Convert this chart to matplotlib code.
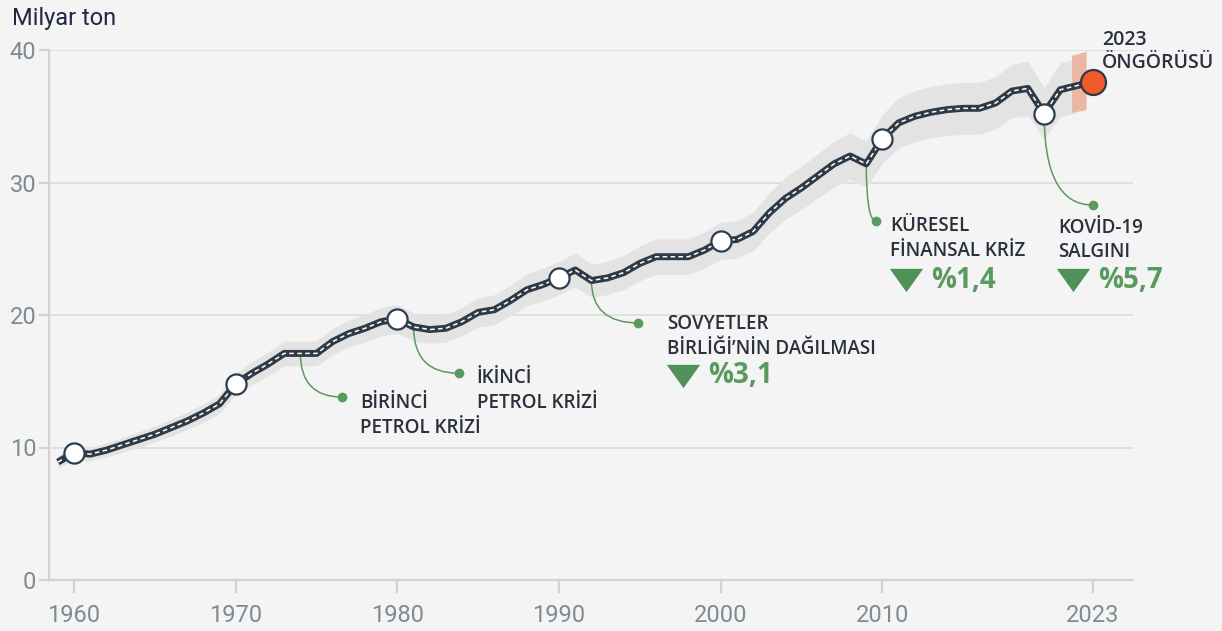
import numpy as np
import matplotlib
matplotlib.use("Agg")
import matplotlib.pyplot as plt
from matplotlib.path import Path
from matplotlib.patches import PathPatch

# global fossil CO2 emissions, billion tonnes
years = list(range(1959, 2024))
emissions = [
    8.9, 9.6, 9.5, 9.8, 10.2, 10.6, 11.0, 11.5, 12.0, 12.6, 13.3,   # 1959-1969
    14.8, 15.6, 16.3, 17.1, 17.1, 17.1, 18.0, 18.6, 19.0, 19.5,    # 1970-1979
    19.7, 19.1, 18.9, 19.0, 19.5, 20.2, 20.4, 21.1, 21.9, 22.3,    # 1980-1989
    22.8, 23.4, 22.6, 22.8, 23.2, 23.9, 24.4, 24.4, 24.4, 24.9,    # 1990-1999
    25.6, 25.7, 26.3, 27.7, 28.8, 29.6, 30.5, 31.4, 32.0, 31.4,    # 2000-2009
    33.3, 34.5, 35.0, 35.3, 35.5, 35.6, 35.6, 36.0, 36.9, 37.1,    # 2010-2019
    35.2, 37.0, 37.3, 37.6,                                        # 2020-2023
]
band_pct = 5.5                      # uncertainty shading, +/- percent
proj_band_years = [2021.7, 2022.6]  # 2023 projection range
proj_band_lo = [35.3, 35.5]
proj_band_hi = [39.6, 39.9]

marked_years = [1960, 1970, 1980, 1990, 2000, 2010, 2020]
forecast_year = 2023

xticks = [1960, 1970, 1980, 1990, 2000, 2010, 2023]
yticks = [0, 10, 20, 30, 40]

# events: (year on line, dot x, dot y, text x, line 1 y, line 2 y, pct y, lines, pct)
events = [
    (1974, 1976.6, 13.8, 1977.7, 13.36, 11.47, None, ["BİRİNCİ", "PETROL KRİZİ"], None),
    (1981, 1983.8, 15.6, 1984.9, 15.25, 13.36, None, ["İKİNCİ", "PETROL KRİZİ"], None),
    (1992, 1994.9, 19.4, 1996.7, 19.32, 17.43, 15.40, ["SOVYETLER", "BİRLİĞİ’NİN DAĞILMASI"], "%3,1"),
    (2009, 2009.6, 27.1, 2010.5, 26.72, 24.83, 22.64, ["KÜRESEL", "FİNANSAL KRİZ"], "%1,4"),
    (2020, 2023.0, 28.3, 2020.85, 26.57, 24.75, 22.64, ["KOVİD-19", "SALGINI"], "%5,7"),
]

BG = "#f4f4f4"
DARK = "#2e3a46"
GREEN = "#5b9a5f"
TEXT = "#2a303c"
TICK = "#7d8b92"

yrs = np.array(years)
vals = np.array(emissions)

fig = plt.figure(figsize=(12.22, 6.31), dpi=100, facecolor=BG)
ax = fig.add_axes([49 / 1222, 51 / 631, 1084 / 1222, 530 / 631])
ax.set_facecolor(BG)
ax.set_xlim(1958.45, 2025.5)
ax.set_ylim(0, 40)

# grid + spines
ax.set_yticks(yticks)
ax.set_xticks(xticks)
ax.grid(axis="y", color="#dddddd", lw=1.3, zorder=0)
ax.set_axisbelow(True)
for s in ["top", "right"]:
    ax.spines[s].set_visible(False)
for s in ["left", "bottom"]:
    ax.spines[s].set_color("#d2d2d2")
    ax.spines[s].set_linewidth(1.6)
ax.tick_params(axis="both", colors="#d2d2d2", width=1.6, labelcolor=TICK, labelsize=17)
ax.tick_params(axis="x", length=9, pad=8)
ax.tick_params(axis="y", length=7, pad=2)
for lab in ax.get_xticklabels() + ax.get_yticklabels():
    lab.set_family(["Roboto", "DejaVu Sans"])

# uncertainty band
f = band_pct / 100
keep = yrs <= 2022
ax.fill_between(yrs[keep], vals[keep] * (1 - f), vals[keep] * (1 + f),
                color="#e3e3e3", lw=0, zorder=1)
ax.fill_between(proj_band_years, proj_band_lo, proj_band_hi, color="#ebb6a2", lw=0, zorder=2)

# "road" line
ax.plot(yrs, vals, color=DARK, lw=5, solid_capstyle="butt", zorder=3)
ax.plot(yrs, vals, color="white", lw=1.1, dashes=(3, 2.2), zorder=4)

# annotation curves and labels
for yr, dx, dy, tx, ly1, ly2, py, lines, pct in events:
    x0 = yr
    y0 = emissions[years.index(yr)]
    p = Path([(x0, y0), (x0, dy), (dx, dy)], [Path.MOVETO, Path.CURVE3, Path.CURVE3])
    ax.add_patch(PathPatch(p, fc="none", ec=GREEN, lw=1.1, zorder=2.5, clip_on=False))
    ax.plot(dx, dy, "o", ms=7, color=GREEN, mec="none", zorder=5, clip_on=False)
    for txt, ly in zip(lines, [ly1, ly2]):
        ax.text(tx, ly, txt, fontsize=13.5, color=TEXT, fontweight="semibold",
                family=["Open Sans", "DejaVu Sans"], va="center", ha="left")
    if pct:
        ax.plot(tx + 0.95, py, marker=[(-1, 0.7), (1, 0.7), (0, -0.7)], ms=24,
                color="#4f9156", mec="none", zorder=5)
        ax.text(tx + 2.5, py, pct, fontsize=20, color="#5a9a5e", fontweight="bold",
                family=["Open Sans", "DejaVu Sans"], va="center", ha="left")

# markers
mv = [emissions[years.index(y)] for y in marked_years]
ax.plot(marked_years, mv, "o", ms=14.5, mfc="white", mec="#2b3e50", mew=1.6, zorder=6)
ax.plot(forecast_year, emissions[years.index(forecast_year)], "o", ms=18,
        mfc="#f15a29", mec="#2b3a46", mew=1.6, zorder=6, clip_on=False)

ax.text(2023.57, 40.75, "2023", fontsize=14, color=TEXT, fontweight="semibold",
        family=["Open Sans", "DejaVu Sans"], va="center", ha="left", clip_on=False)
ax.text(2023.57, 39.05, "ÖNGÖRÜSÜ", fontsize=14, color=TEXT, fontweight="semibold",
        family=["Open Sans", "DejaVu Sans"], va="center", ha="left", clip_on=False)

fig.text(12 / 1222, 1 - 18 / 631, "Milyar ton", fontsize=17, color="#1f2742",
         family=["Roboto", "DejaVu Sans"], va="center", ha="left")

fig.savefig("out.png", dpi=100, facecolor=BG)
